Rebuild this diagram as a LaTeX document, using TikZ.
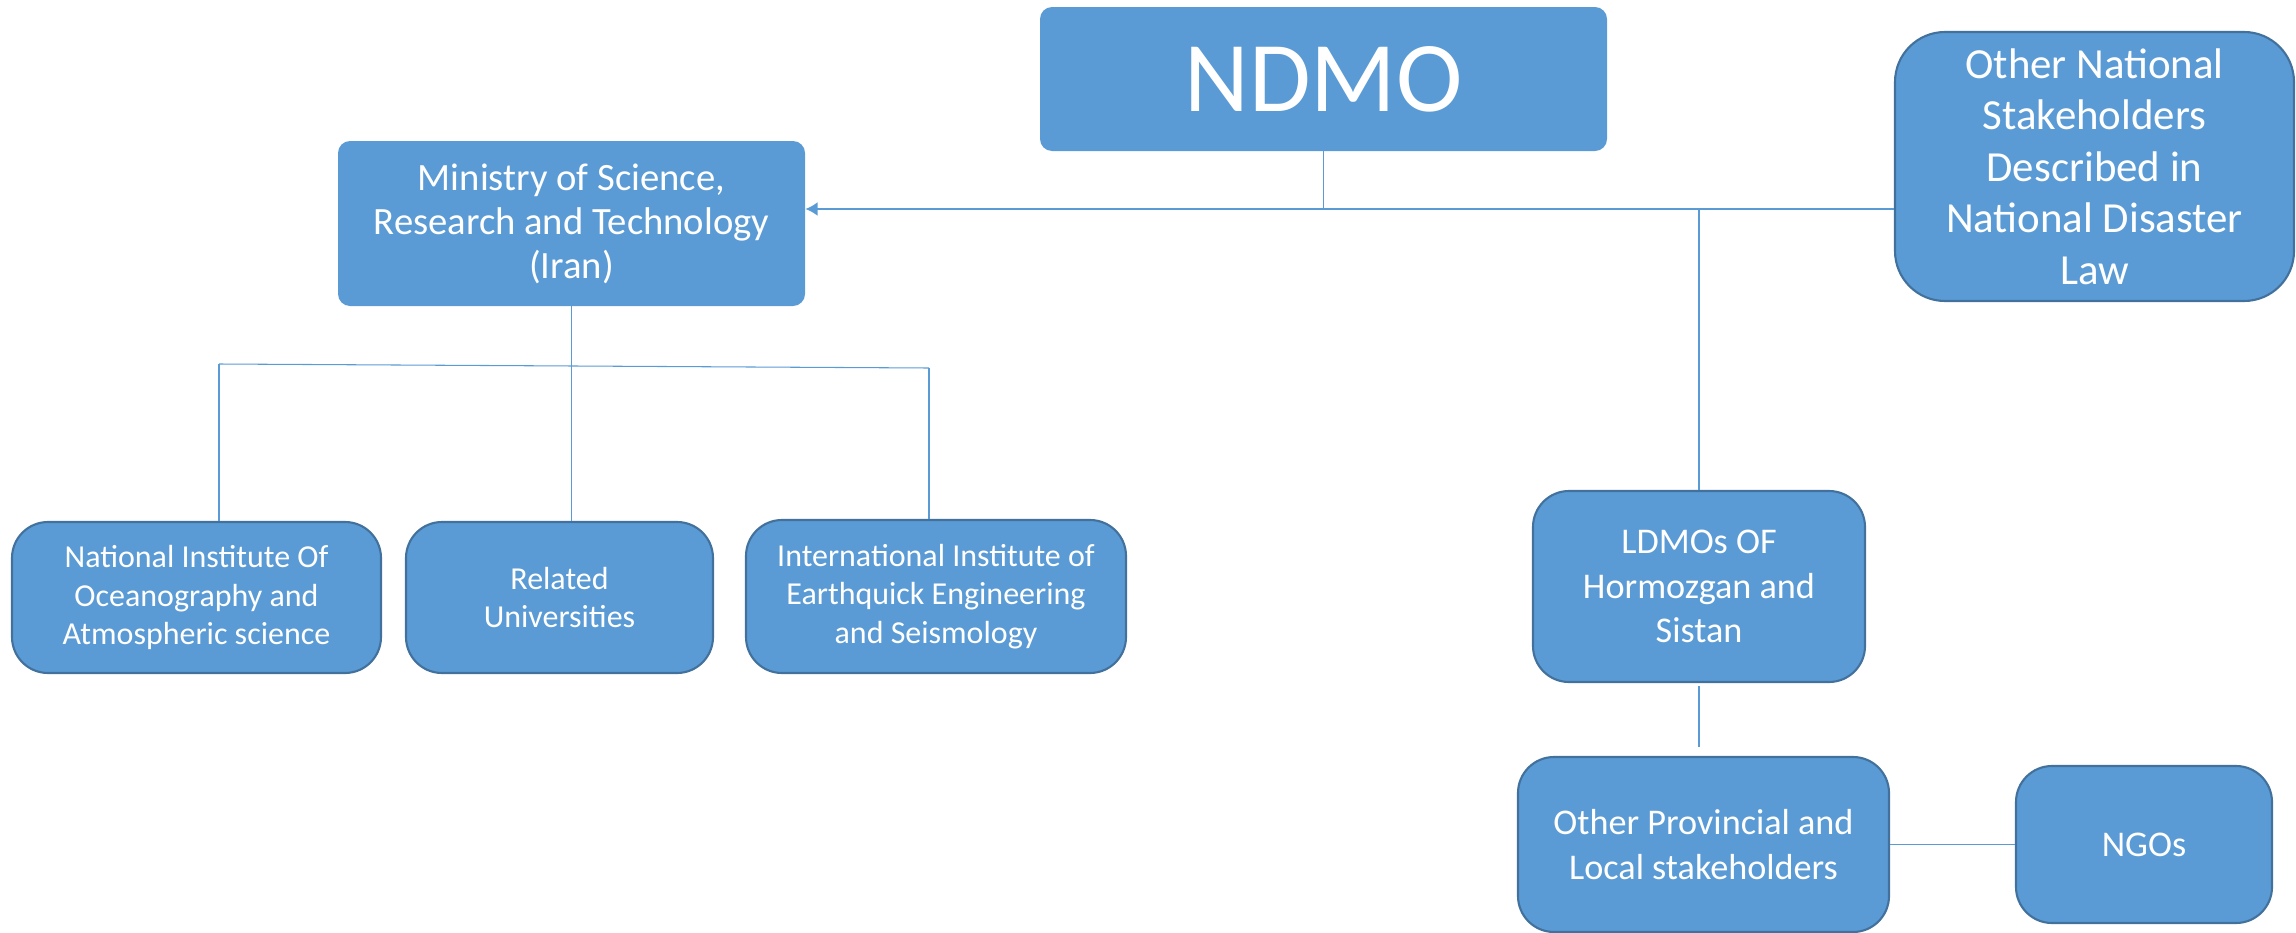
\documentclass[tikz,border=0pt]{standalone}
\usepackage{fontspec}
\setmainfont{Carlito}
\usetikzlibrary{arrows.meta}

\definecolor{boxblue}{HTML}{5B9BD5}
\definecolor{edgeblue}{HTML}{41719C}

\tikzset{
  flatbox/.style={fill=boxblue, rounded corners=12*\u, inner sep=0pt, align=center, text=white},
  orgbox/.style={flatbox, draw=edgeblue, line width=1.2pt, rounded corners=36*\u},
  conn/.style={draw=boxblue, line width=0.6pt},
  arrowconn/.style={conn, line width=1.1pt, -{Latex[length=7pt,width=8pt]}},
}

\begin{document}
\def\u{0.02cm}
\begin{tikzpicture}[x=\u, y=-\u]

% --- Cadre ---
\useasboundingbox (0,0) rectangle (2296,933);

% --- Niveau national ---
\node[flatbox, minimum width=567*\u, minimum height=144*\u,
      font=\fontsize{57}{66}\selectfont] (ndmo) at (1323.5,79) {NDMO};
\node[flatbox, minimum width=467*\u, minimum height=165*\u,
      font=\fontsize{22}{25}\selectfont] (msrt) at (571.5,223.5)
      {Ministry of Science,\\Research and Technology\\(Iran)};
\node[orgbox, rounded corners=50*\u, minimum width=399*\u, minimum height=269*\u,
      font=\fontsize{24.4}{29.3}\selectfont] (ons) at (2094.5,166.5)
      {Other National\\Stakeholders\\Described in\\National Disaster\\Law};

% --- Instituts ---
\node[orgbox, minimum width=369*\u, minimum height=151*\u,
      font=\fontsize{18.2}{22}\selectfont] (nio) at (196.5,597.5)
      {National Institute Of\\Oceanography and\\Atmospheric science};
\node[orgbox, minimum width=307*\u, minimum height=151*\u,
      font=\fontsize{18.2}{22}\selectfont] (uni) at (559.5,597.5)
      {Related\\Universities};
\node[orgbox, minimum width=380*\u, minimum height=153*\u,
      font=\fontsize{18.2}{22}\selectfont] (iiees) at (936,596.5)
      {International Institute of\\Earthquick Engineering\\and Seismology};

% --- Niveau provincial ---
\node[orgbox, minimum width=332*\u, minimum height=191*\u,
      font=\fontsize{20.6}{25.5}\selectfont] (ldmo) at (1699,586.5)
      {LDMOs OF\\Hormozgan and\\Sistan};
\node[orgbox, minimum width=371*\u, minimum height=175*\u,
      font=\fontsize{20.6}{25.5}\selectfont] (opl) at (1703.5,844.5)
      {Other Provincial and\\Local stakeholders};
\node[orgbox, minimum width=256*\u, minimum height=157*\u,
      font=\fontsize{20.6}{25.5}\selectfont] (ngo) at (2144,844.5) {NGOs};

% --- Points de jonction ---
\coordinate (hub) at (1300,209);
\coordinate (brL) at (219,364);
\coordinate (brR) at (929,368);

% --- Liaisons du NDMO ---
\draw[conn] (ndmo.south) -- (ndmo.south |- hub);
\draw[conn] (hub) -- (hub -| ons.west);
\draw[arrowconn] (hub) -- (msrt.east |- hub);
\draw[conn] (ldmo.north |- hub) -- (ldmo.north);

% --- Liaisons du ministere ---
\draw[conn] (msrt.south) -- (msrt.south |- uni.north);
\draw[conn] (brL) -- (brR);
\draw[conn] (brL) -- (brL |- nio.north);
\draw[conn] (brR) -- (brR |- iiees.north);

% --- Liaisons provinciales ---
\draw[conn, shorten <=3*\u, shorten >=9*\u] (ldmo.south) -- (ldmo.south |- opl.north);
\draw[conn] (opl.east) -- (ngo.west);

\end{tikzpicture}
\end{document}
